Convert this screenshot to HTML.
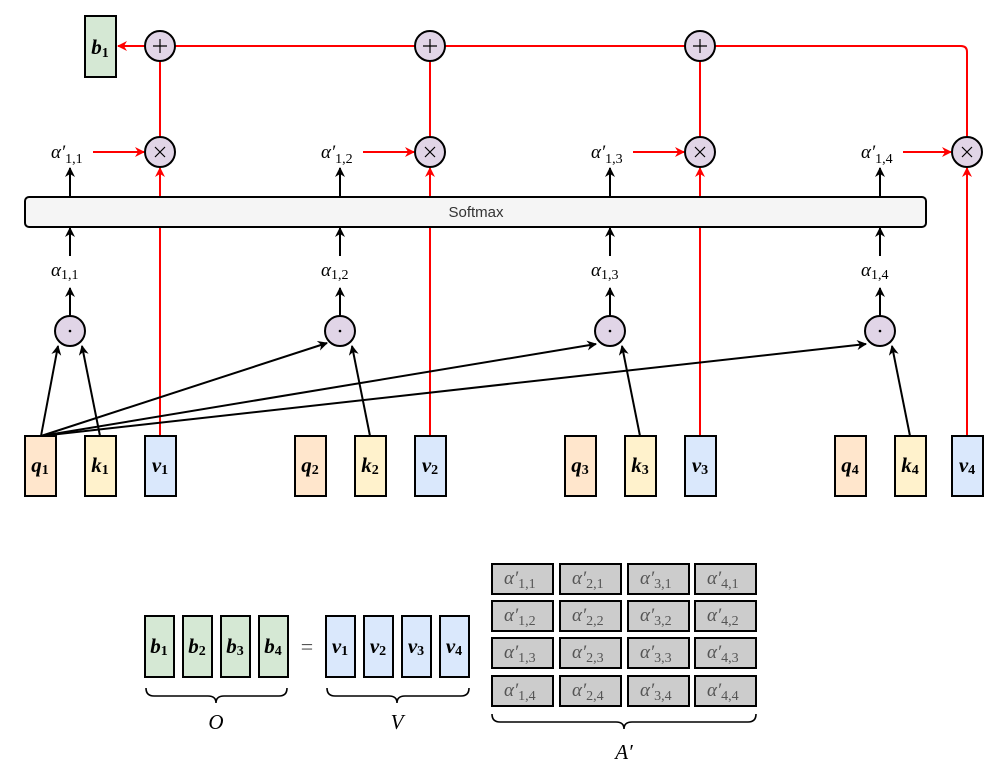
<!DOCTYPE html>
<html><head><meta charset="utf-8"><style>
html,body{margin:0;padding:0;background:#fff;width:1002px;height:771px;overflow:hidden}
svg{display:block}
.m{font-family:"Liberation Serif",serif;font-style:italic}
.v{font-family:"Liberation Serif",serif;font-style:italic;font-weight:bold}
.s{font-style:normal;font-weight:normal}
.sb{font-style:normal;font-weight:bold}
</style></head><body>
<svg width="1002" height="771" viewBox="0 0 1002 771" xmlns="http://www.w3.org/2000/svg">
<defs>
<marker id="ab" markerWidth="10" markerHeight="10" refX="9" refY="5" orient="auto" markerUnits="userSpaceOnUse"><path d="M0,0 L10,5 L0,10 L3,5 Z" fill="#000"/></marker>
<marker id="ar" markerWidth="10" markerHeight="10" refX="9" refY="5" orient="auto" markerUnits="userSpaceOnUse"><path d="M0,0 L10,5 L0,10 L3,5 Z" fill="#ff0000"/></marker>
</defs>

<path d="M175,46 L961,46 Q967,46 967,52 L967,137" fill="none" stroke="#ff0000" stroke-width="2"/>
<line x1="145" y1="46" x2="118" y2="46" stroke="#ff0000" stroke-width="2" marker-end="url(#ar)"/>
<line x1="160" y1="61" x2="160" y2="137" stroke="#ff0000" stroke-width="2"/>
<line x1="430" y1="61" x2="430" y2="137" stroke="#ff0000" stroke-width="2"/>
<line x1="700" y1="61" x2="700" y2="137" stroke="#ff0000" stroke-width="2"/>
<line x1="160" y1="436" x2="160" y2="168" stroke="#ff0000" stroke-width="2" marker-end="url(#ar)"/>
<line x1="430" y1="436" x2="430" y2="168" stroke="#ff0000" stroke-width="2" marker-end="url(#ar)"/>
<line x1="700" y1="436" x2="700" y2="168" stroke="#ff0000" stroke-width="2" marker-end="url(#ar)"/>
<line x1="967" y1="436" x2="967" y2="168" stroke="#ff0000" stroke-width="2" marker-end="url(#ar)"/>
<line x1="93" y1="152" x2="144" y2="152" stroke="#ff0000" stroke-width="2" marker-end="url(#ar)"/>
<line x1="363" y1="152" x2="414" y2="152" stroke="#ff0000" stroke-width="2" marker-end="url(#ar)"/>
<line x1="633" y1="152" x2="684" y2="152" stroke="#ff0000" stroke-width="2" marker-end="url(#ar)"/>
<line x1="903" y1="152" x2="951" y2="152" stroke="#ff0000" stroke-width="2" marker-end="url(#ar)"/>

<rect x="85" y="16" width="31" height="61" fill="#d5e8d4" stroke="#000" stroke-width="2"/>
<text x="100" y="54" text-anchor="middle" class="v" font-size="21">b<tspan class="sb" font-size="14" dy="3">1</tspan></text>

<g stroke="#000" stroke-width="2" fill="#e1d5e7">
<circle cx="160" cy="46" r="15"/><circle cx="430" cy="46" r="15"/><circle cx="700" cy="46" r="15"/>
<circle cx="160" cy="152" r="15"/><circle cx="430" cy="152" r="15"/><circle cx="700" cy="152" r="15"/><circle cx="967" cy="152" r="15"/>
<circle cx="70" cy="331" r="15"/><circle cx="340" cy="331" r="15"/><circle cx="610" cy="331" r="15"/><circle cx="880" cy="331" r="15"/>
</g>
<g stroke="#000" stroke-width="1.2">
<path d="M153,46 H167 M160,39 V53"/><path d="M423,46 H437 M430,39 V53"/><path d="M693,46 H707 M700,39 V53"/>
<path d="M155,147 L165,157 M165,147 L155,157"/><path d="M425,147 L435,157 M435,147 L425,157"/><path d="M695,147 L705,157 M705,147 L695,157"/><path d="M962,147 L972,157 M972,147 L962,157"/>
</g>
<g fill="#000"><circle cx="70" cy="331" r="1.3"/><circle cx="340" cy="331" r="1.3"/><circle cx="610" cy="331" r="1.3"/><circle cx="880" cy="331" r="1.3"/></g>

<rect x="25" y="197" width="901" height="30" rx="4" fill="#f5f5f5" stroke="#000" stroke-width="2"/>
<text x="476" y="217" text-anchor="middle" font-family="Liberation Sans, sans-serif" font-size="15" fill="#333">Softmax</text>

<g stroke="#000" stroke-width="2" marker-end="url(#ab)">
<line x1="70" y1="197" x2="70" y2="168"/><line x1="340" y1="197" x2="340" y2="168"/><line x1="610" y1="197" x2="610" y2="168"/><line x1="880" y1="197" x2="880" y2="168"/>
<line x1="70" y1="256" x2="70" y2="228"/><line x1="340" y1="256" x2="340" y2="228"/><line x1="610" y1="256" x2="610" y2="228"/><line x1="880" y1="256" x2="880" y2="228"/>
<line x1="70" y1="316" x2="70" y2="288"/><line x1="340" y1="316" x2="340" y2="288"/><line x1="610" y1="316" x2="610" y2="288"/><line x1="880" y1="316" x2="880" y2="288"/>
<line x1="41" y1="436" x2="58" y2="346"/>
<line x1="100" y1="436" x2="82" y2="346"/>
<line x1="41" y1="436" x2="327" y2="343"/>
<line x1="41" y1="436" x2="596" y2="344"/>
<line x1="41" y1="436" x2="866" y2="344"/>
<line x1="370" y1="436" x2="352" y2="346"/>
<line x1="640" y1="436" x2="622" y2="346"/>
<line x1="910" y1="436" x2="892" y2="346"/>
</g>

<g class="m" font-size="19" fill="#000">
<text x="51" y="158">α′<tspan class="s" font-size="14" dy="5">1,1</tspan></text>
<text x="321" y="158">α′<tspan class="s" font-size="14" dy="5">1,2</tspan></text>
<text x="591" y="158">α′<tspan class="s" font-size="14" dy="5">1,3</tspan></text>
<text x="861" y="158">α′<tspan class="s" font-size="14" dy="5">1,4</tspan></text>
<text x="51" y="276">α<tspan class="s" font-size="14" dy="3">1,1</tspan></text>
<text x="321" y="276">α<tspan class="s" font-size="14" dy="3">1,2</tspan></text>
<text x="591" y="276">α<tspan class="s" font-size="14" dy="3">1,3</tspan></text>
<text x="861" y="276">α<tspan class="s" font-size="14" dy="3">1,4</tspan></text>
</g>

<g stroke="#000" stroke-width="2">
<rect x="25" y="436" width="31" height="60" fill="#ffe6cc"/><rect x="85" y="436" width="31" height="60" fill="#fff2cc"/><rect x="145" y="436" width="31" height="60" fill="#dae8fc"/>
<rect x="295" y="436" width="31" height="60" fill="#ffe6cc"/><rect x="355" y="436" width="31" height="60" fill="#fff2cc"/><rect x="415" y="436" width="31" height="60" fill="#dae8fc"/>
<rect x="565" y="436" width="31" height="60" fill="#ffe6cc"/><rect x="625" y="436" width="31" height="60" fill="#fff2cc"/><rect x="685" y="436" width="31" height="60" fill="#dae8fc"/>
<rect x="835" y="436" width="31" height="60" fill="#ffe6cc"/><rect x="895" y="436" width="31" height="60" fill="#fff2cc"/><rect x="952" y="436" width="31" height="60" fill="#dae8fc"/>
</g>
<g class="v" font-size="21" text-anchor="middle">
<text x="40" y="472">q<tspan class="sb" font-size="14" dy="2">1</tspan></text>
<text x="100" y="472">k<tspan class="sb" font-size="14" dy="2">1</tspan></text>
<text x="160" y="472">v<tspan class="sb" font-size="14" dy="2">1</tspan></text>
<text x="310" y="472">q<tspan class="sb" font-size="14" dy="2">2</tspan></text>
<text x="370" y="472">k<tspan class="sb" font-size="14" dy="2">2</tspan></text>
<text x="430" y="472">v<tspan class="sb" font-size="14" dy="2">2</tspan></text>
<text x="580" y="472">q<tspan class="sb" font-size="14" dy="2">3</tspan></text>
<text x="640" y="472">k<tspan class="sb" font-size="14" dy="2">3</tspan></text>
<text x="700" y="472">v<tspan class="sb" font-size="14" dy="2">3</tspan></text>
<text x="850" y="472">q<tspan class="sb" font-size="14" dy="2">4</tspan></text>
<text x="910" y="472">k<tspan class="sb" font-size="14" dy="2">4</tspan></text>
<text x="967" y="472">v<tspan class="sb" font-size="14" dy="2">4</tspan></text>
</g>

<g stroke="#000" stroke-width="2" fill="#d5e8d4">
<rect x="145" y="616" width="29" height="61"/><rect x="183" y="616" width="29" height="61"/><rect x="221" y="616" width="29" height="61"/><rect x="259" y="616" width="29" height="61"/>
</g>
<g stroke="#000" stroke-width="2" fill="#dae8fc">
<rect x="326" y="616" width="29" height="61"/><rect x="364" y="616" width="29" height="61"/><rect x="402" y="616" width="29" height="61"/><rect x="440" y="616" width="29" height="61"/>
</g>
<g class="v" font-size="21" text-anchor="middle">
<text x="159" y="653">b<tspan class="sb" font-size="14" dy="2">1</tspan></text>
<text x="197" y="653">b<tspan class="sb" font-size="14" dy="2">2</tspan></text>
<text x="235" y="653">b<tspan class="sb" font-size="14" dy="2">3</tspan></text>
<text x="273" y="653">b<tspan class="sb" font-size="14" dy="2">4</tspan></text>
<text x="340" y="653">v<tspan class="sb" font-size="14" dy="2">1</tspan></text>
<text x="378" y="653">v<tspan class="sb" font-size="14" dy="2">2</tspan></text>
<text x="416" y="653">v<tspan class="sb" font-size="14" dy="2">3</tspan></text>
<text x="454" y="653">v<tspan class="sb" font-size="14" dy="2">4</tspan></text>
</g>
<text x="307" y="654" text-anchor="middle" font-family="Liberation Serif, serif" font-size="22" fill="#555">=</text>

<g stroke="#000" stroke-width="2" fill="#cccccc">
<rect x="492" y="564" width="61" height="30"/><rect x="560" y="564" width="61" height="30"/><rect x="628" y="564" width="61" height="30"/><rect x="695" y="564" width="61" height="30"/>
<rect x="492" y="601" width="61" height="30"/><rect x="560" y="601" width="61" height="30"/><rect x="628" y="601" width="61" height="30"/><rect x="695" y="601" width="61" height="30"/>
<rect x="492" y="638" width="61" height="30"/><rect x="560" y="638" width="61" height="30"/><rect x="628" y="638" width="61" height="30"/><rect x="695" y="638" width="61" height="30"/>
<rect x="492" y="676" width="61" height="30"/><rect x="560" y="676" width="61" height="30"/><rect x="628" y="676" width="61" height="30"/><rect x="695" y="676" width="61" height="30"/>
</g>
<g class="m" font-size="19" fill="#555">
<text x="504" y="584">α′<tspan class="s" font-size="14" dy="4">1,1</tspan></text><text x="572" y="584">α′<tspan class="s" font-size="14" dy="4">2,1</tspan></text><text x="640" y="584">α′<tspan class="s" font-size="14" dy="4">3,1</tspan></text><text x="707" y="584">α′<tspan class="s" font-size="14" dy="4">4,1</tspan></text>
<text x="504" y="621">α′<tspan class="s" font-size="14" dy="4">1,2</tspan></text><text x="572" y="621">α′<tspan class="s" font-size="14" dy="4">2,2</tspan></text><text x="640" y="621">α′<tspan class="s" font-size="14" dy="4">3,2</tspan></text><text x="707" y="621">α′<tspan class="s" font-size="14" dy="4">4,2</tspan></text>
<text x="504" y="658">α′<tspan class="s" font-size="14" dy="4">1,3</tspan></text><text x="572" y="658">α′<tspan class="s" font-size="14" dy="4">2,3</tspan></text><text x="640" y="658">α′<tspan class="s" font-size="14" dy="4">3,3</tspan></text><text x="707" y="658">α′<tspan class="s" font-size="14" dy="4">4,3</tspan></text>
<text x="504" y="696">α′<tspan class="s" font-size="14" dy="4">1,4</tspan></text><text x="572" y="696">α′<tspan class="s" font-size="14" dy="4">2,4</tspan></text><text x="640" y="696">α′<tspan class="s" font-size="14" dy="4">3,4</tspan></text><text x="707" y="696">α′<tspan class="s" font-size="14" dy="4">4,4</tspan></text>
</g>

<g fill="none" stroke="#000" stroke-width="1.6">
<path d="M146,688 Q146,696 154,696 L208,696 Q216,696 216,703 Q216,696 224,696 L279,696 Q287,696 287,688"/>
<path d="M327,688 Q327,696 335,696 L389,696 Q397,696 397,703 Q397,696 405,696 L461,696 Q469,696 469,688"/>
<path d="M492,714 Q492,722 500,722 L616,722 Q624,722 624,729 Q624,722 632,722 L748,722 Q756,722 756,714"/>
</g>
<g class="m" font-size="21" text-anchor="middle">
<text x="216" y="729">O</text>
<text x="397" y="729">V</text>
<text x="624" y="759">A′</text>
</g>
</svg>
</body></html>
